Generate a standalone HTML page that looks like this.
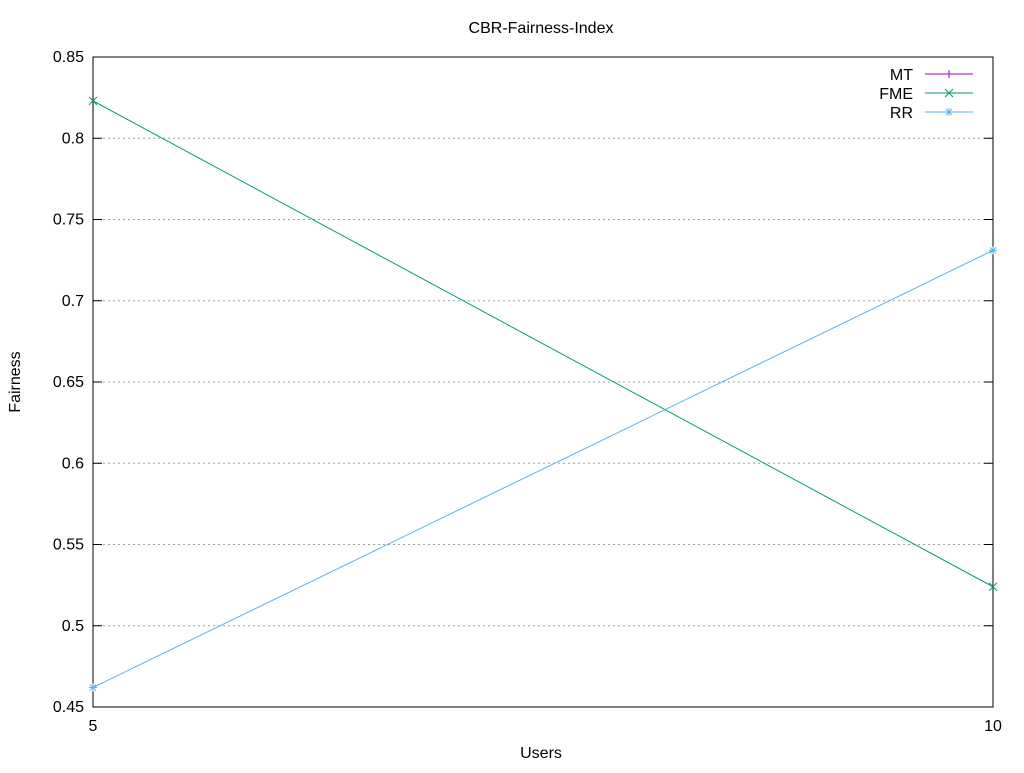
<!DOCTYPE html>
<html><head><meta charset="utf-8"><style>
body{margin:0;background:#fff;font-family:"Liberation Sans",sans-serif}
svg text{font-family:"Liberation Sans",sans-serif;font-size:16px;fill:#000}
</style></head><body>
<svg id="c" width="1024" height="768"></svg>
<script>
const categories=[5,10];
const mtValues=[];
const fmeValues=[0.823,0.524];
const rrValues=[0.462,0.731];
const yTicks=[0.45,0.5,0.55,0.6,0.65,0.7,0.75,0.8,0.85];
const yTickLabels=["0.45","0.5","0.55","0.6","0.65","0.7","0.75","0.8","0.85"];
const NS="http://www.w3.org/2000/svg";
const svg=document.getElementById('c');
const L=93,R=993,T=57,B=707;
const xs=v=>L+(v-5)/(10-5)*(R-L);
const ys=v=>B-(v-0.45)/(0.85-0.45)*(B-T);
function el(t,a,p){const e=document.createElementNS(NS,t);for(const k in a)e.setAttribute(k,a[k]);(p||svg).appendChild(e);return e;}
function txt(x,y,s,anchor,name,extra){const e=el('text',Object.assign({x:x,y:y,'text-anchor':anchor},extra||{}));e.textContent=s;

return e;}
yTicks.forEach((v,i)=>{const y=ys(v);
if(i>0&&i<yTicks.length-1){const g=el('line',{x1:L,x2:R,y1:y,y2:y,stroke:'#a0a0a0','stroke-dasharray':'2,3','stroke-width':1});

}
el('line',{x1:L,x2:L+9,y1:y,y2:y,stroke:'#000'});el('line',{x1:R,x2:R-9,y1:y,y2:y,stroke:'#000'});
txt(L-9,y+5,yTickLabels[i],'end','y-tick-label');});
categories.forEach(c=>{const x=xs(c);el('line',{x1:x,x2:x,y1:B,y2:B-9,stroke:'#000'});el('line',{x1:x,x2:x,y1:T,y2:T+9,stroke:'#000'});
txt(x,B+24,String(c),'middle','x-tick-label');});
const fr=el('rect',{x:L,y:T,width:R-L,height:B-T,fill:'none',stroke:'#000'});


txt(541,33,'CBR-Fairness-Index','middle','chart-title');
txt(541,758,'Users','middle','x-axis-title');
txt(20,382,'Fairness','middle','y-axis-title',{transform:'rotate(-90 20 382)'});
function marker(type,x,y,col,g){
 if(type==='plus'){el('path',{d:`M${x-4},${y}h8M${x},${y-4}v8`,stroke:col,fill:'none'},g);}
 else if(type==='x'){el('path',{d:`M${x-4},${y-4}l8,8M${x-4},${y+4}l8,-8`,stroke:col,fill:'none'},g);}
 else {el('path',{d:`M${x-4},${y}h8M${x},${y-4}v8M${x-3},${y-3}l6,6M${x-3},${y+3}l6,-6`,stroke:col,fill:'none'},g);}
}
const series=[['MT',mtValues,'#9400d3','plus'],['FME',fmeValues,'#009e73','x'],['RR',rrValues,'#56b4e9','star']];
series.forEach((s,i)=>{
 const g=el('g',{});
 
 
 if(s[1].length){const pts=s[1].map((v,j)=>xs(categories[j])+','+ys(v)).join(' ');
  el('polyline',{points:pts,fill:'none',stroke:s[2],'stroke-width':1},g);
  s[1].forEach((v,j)=>marker(s[3],xs(categories[j]),ys(v),s[2],g));}
 const ly=74+i*19;
 const lg=el('g',{});
 
 
 const t=el('text',{x:913,y:ly+6,'text-anchor':'end'},lg);t.textContent=s[0];
 el('line',{x1:925,x2:973,y1:ly,y2:ly,stroke:s[2]},lg);
 marker(s[3],949,ly,s[2],lg);
});
</script>
</body></html>
